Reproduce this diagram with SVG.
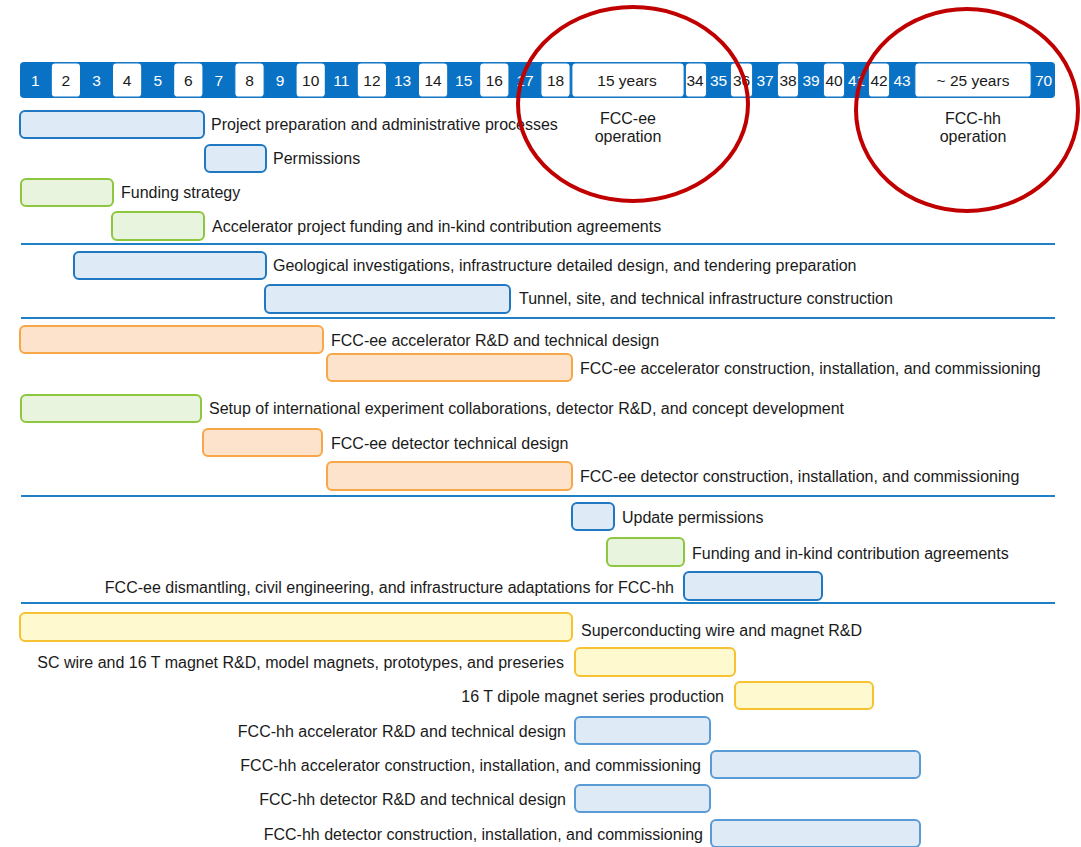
<svg xmlns="http://www.w3.org/2000/svg" width="1081" height="847" viewBox="0 0 1081 847">
<style>
text{font-family:"Liberation Sans",Arial,sans-serif;font-size:16px;fill:#1a1a1a}
.hn{font-size:15.5px;text-anchor:middle}
.hb{fill:#ffffff}
.wc{fill:#ffffff;stroke:#0a72c4;stroke-width:1.2}
.bb{fill:#dfeaf7;stroke:#1f78c1;stroke-width:2}
.bl{fill:#dfeaf7;stroke:#5b9bd5;stroke-width:2}
.gb{fill:#e9f4de;stroke:#8dc63f;stroke-width:2}
.ob{fill:#fde3cb;stroke:#f7a648;stroke-width:2}
.yb{fill:#fff9cf;stroke:#f6c232;stroke-width:2}
.sep{stroke:#1f80c6;stroke-width:2}
.end{text-anchor:end}
.mid{text-anchor:middle}
.ring{fill:none;stroke:#c00000;stroke-width:4}
</style>
<rect width="1081" height="847" fill="#ffffff"/>
<g id="header">
<rect x="20" y="62" width="1035" height="36" rx="4" fill="#0a72c4"/>
<rect class="wc" x="51.2" y="62.8" width="29.4" height="34.4" rx="4"/>
<rect class="wc" x="112.4" y="62.8" width="29.4" height="34.4" rx="4"/>
<rect class="wc" x="173.6" y="62.8" width="29.4" height="34.4" rx="4"/>
<rect class="wc" x="234.8" y="62.8" width="29.4" height="34.4" rx="4"/>
<rect class="wc" x="296" y="62.8" width="29.4" height="34.4" rx="4"/>
<rect class="wc" x="357.2" y="62.8" width="29.4" height="34.4" rx="4"/>
<rect class="wc" x="418.4" y="62.8" width="29.4" height="34.4" rx="4"/>
<rect class="wc" x="479.6" y="62.8" width="29.4" height="34.4" rx="4"/>
<rect class="wc" x="540.8" y="62.8" width="29.4" height="34.4" rx="4"/>
<rect class="wc" x="571.8" y="62.8" width="112.4" height="34.4" rx="4"/>
<rect class="wc" x="685.3" y="62.8" width="21.4" height="34.4" rx="4"/>
<rect class="wc" x="730.3" y="62.8" width="22.4" height="34.4" rx="4"/>
<rect class="wc" x="777.3" y="62.8" width="21.4" height="34.4" rx="4"/>
<rect class="wc" x="823.3" y="62.8" width="21.4" height="34.4" rx="4"/>
<rect class="wc" x="868.3" y="62.8" width="21.4" height="34.4" rx="4"/>
<rect class="wc" x="914.8" y="62.8" width="116.4" height="34.4" rx="4"/>
<text class="hn hb" x="35.3" y="85.5">1</text>
<text class="hn" x="65.9" y="85.5">2</text>
<text class="hn hb" x="96.5" y="85.5">3</text>
<text class="hn" x="127.1" y="85.5">4</text>
<text class="hn hb" x="157.7" y="85.5">5</text>
<text class="hn" x="188.3" y="85.5">6</text>
<text class="hn hb" x="218.9" y="85.5">7</text>
<text class="hn" x="249.5" y="85.5">8</text>
<text class="hn hb" x="280.1" y="85.5">9</text>
<text class="hn" x="310.7" y="85.5">10</text>
<text class="hn hb" x="341.3" y="85.5">11</text>
<text class="hn" x="371.9" y="85.5">12</text>
<text class="hn hb" x="402.5" y="85.5">13</text>
<text class="hn" x="433.1" y="85.5">14</text>
<text class="hn hb" x="463.7" y="85.5">15</text>
<text class="hn" x="494.3" y="85.5">16</text>
<text class="hn hb" x="524.9" y="85.5">17</text>
<text class="hn" x="555.5" y="85.5">18</text>
<text class="hn" x="627" y="85.5">15 years</text>
<text class="hn" x="695" y="85.5">34</text>
<text class="hn hb" x="718.5" y="85.5">35</text>
<text class="hn" x="741.5" y="85.5">36</text>
<text class="hn hb" x="765" y="85.5">37</text>
<text class="hn" x="788" y="85.5">38</text>
<text class="hn hb" x="811" y="85.5">39</text>
<text class="hn" x="834" y="85.5">40</text>
<text class="hn hb" x="856.5" y="85.5">41</text>
<text class="hn" x="879" y="85.5">42</text>
<text class="hn hb" x="902" y="85.5">43</text>
<text class="hn" x="973" y="85.5">~ 25 years</text>
<text class="hn hb" x="1043.5" y="85.5">70</text>
</g>
<g id="connectors">
<line class="sep" x1="21" y1="244" x2="1055" y2="244"/>
<line class="sep" x1="21" y1="318" x2="1055" y2="318"/>
<line class="sep" x1="21" y1="496" x2="1055" y2="496"/>
<line class="sep" x1="21" y1="603" x2="1055" y2="603"/>
</g>
<g id="t1"><rect class="bb" x="20" y="111" width="184" height="27" rx="5"/><text x="211" y="130">Project preparation and administrative processes</text></g>
<g id="t2"><rect class="bb" x="205" y="145" width="61" height="27" rx="5"/><text x="273" y="164">Permissions</text></g>
<g id="t3"><rect class="gb" x="21" y="179" width="92" height="27" rx="5"/><text x="121" y="198">Funding strategy</text></g>
<g id="t4"><rect class="gb" x="112" y="212" width="92" height="28" rx="5"/><text x="212" y="232">Accelerator project funding and in-kind contribution agreements</text></g>
<g id="t5"><rect class="bb" x="74" y="252" width="192" height="27" rx="5"/><text x="273" y="271">Geological investigations, infrastructure detailed design, and tendering preparation</text></g>
<g id="t6"><rect class="bb" x="265" y="285" width="245" height="28" rx="5"/><text x="519" y="304">Tunnel, site, and technical infrastructure construction</text></g>
<g id="t7"><rect class="ob" x="20" y="326" width="303" height="27" rx="5"/><text x="331" y="346">FCC-ee accelerator R&amp;D and technical design</text></g>
<g id="t8"><rect class="ob" x="327" y="354" width="245" height="27" rx="5"/><text x="580" y="374">FCC-ee accelerator construction, installation, and commissioning</text></g>
<g id="t9"><rect class="gb" x="21" y="395" width="180" height="27" rx="5"/><text x="209" y="414">Setup of international experiment collaborations, detector R&amp;D, and concept development</text></g>
<g id="t10"><rect class="ob" x="203" y="429" width="119" height="27" rx="5"/><text x="331" y="449">FCC-ee detector technical design</text></g>
<g id="t11"><rect class="ob" x="327" y="462" width="245" height="28" rx="5"/><text x="580" y="482">FCC-ee detector construction, installation, and commissioning</text></g>
<g id="t12"><rect class="bb" x="572" y="503" width="42" height="27" rx="5"/><text x="622" y="523">Update permissions</text></g>
<g id="t13"><rect class="gb" x="607" y="538" width="77" height="28" rx="5"/><text x="692" y="559">Funding and in-kind contribution agreements</text></g>
<g id="t14"><rect class="bb" x="684" y="572" width="138" height="28" rx="5"/><text class="end" x="674" y="593">FCC-ee dismantling, civil engineering, and infrastructure adaptations for FCC-hh</text></g>
<g id="t15"><rect class="yb" x="20" y="613" width="552" height="28" rx="5"/><text x="581" y="636">Superconducting wire and magnet R&amp;D</text></g>
<g id="t16"><rect class="yb" x="575" y="648" width="160" height="28" rx="5"/><text class="end" x="564" y="668">SC wire and 16 T magnet R&amp;D, model magnets, prototypes, and preseries</text></g>
<g id="t17"><rect class="yb" x="735" y="682" width="138" height="27" rx="5"/><text class="end" x="724" y="702">16 T dipole magnet series production</text></g>
<g id="t18"><rect class="bl" x="575" y="717" width="135" height="27" rx="5"/><text class="end" x="566" y="737">FCC-hh accelerator R&amp;D and technical design</text></g>
<g id="t19"><rect class="bl" x="711" y="751" width="209" height="27" rx="5"/><text class="end" x="701" y="771">FCC-hh accelerator construction, installation, and commissioning</text></g>
<g id="t20"><rect class="bl" x="575" y="785" width="135" height="27" rx="5"/><text class="end" x="566" y="805">FCC-hh detector R&amp;D and technical design</text></g>
<g id="t21"><rect class="bl" x="711" y="820" width="209" height="27" rx="5"/><text class="end" x="703" y="840">FCC-hh detector construction, installation, and commissioning</text></g>
<g id="ee-op"><ellipse class="ring" cx="633" cy="104" rx="115" ry="97"/><text class="mid" x="628" y="124">FCC-ee</text><text class="mid" x="628" y="142">operation</text></g>
<g id="hh-op"><ellipse class="ring" cx="967" cy="110" rx="111" ry="101"/><text class="mid" x="973" y="124">FCC-hh</text><text class="mid" x="973" y="142">operation</text></g>
</svg>
